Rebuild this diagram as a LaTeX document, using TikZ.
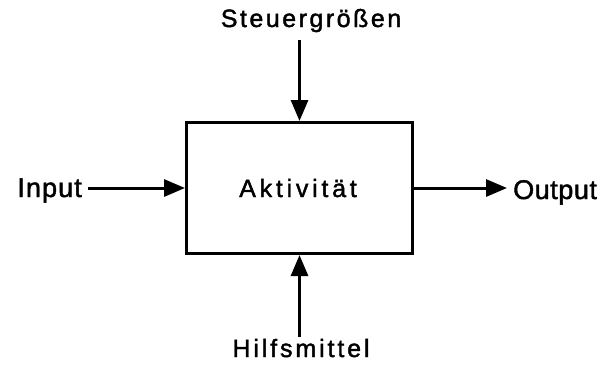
\documentclass[tikz,border=0pt]{standalone}
\usepackage{fontspec}
\newfontfamily\labfont{Liberation Sans}[FakeBold=1.6]
\usetikzlibrary{arrows.meta}
\begin{document}
\begin{tikzpicture}[x=1pt,y=-1pt,
  lbl/.style={anchor=base,inner sep=0pt},
  flow/.style={line width=3pt,-{Triangle[length=21pt,width=17pt]}},
  box/.style={draw,line width=3pt,minimum width=226pt,minimum height=131pt,inner sep=0pt}]
\useasboundingbox (0,0) rectangle (610,368);
\node[box] (act) at (299.5,188) {};
\node[lbl,font=\labfont\fontsize{25}{28}\selectfont\addfontfeature{LetterSpace=15}] (akt) at (298,197) {Aktivität};
\node[lbl,font=\labfont\fontsize{25}{28}\selectfont\addfontfeature{LetterSpace=10}] (st) at (311,27) {Steuergrößen};
\node[lbl,font=\labfont\fontsize{25}{28}\selectfont\addfontfeature{LetterSpace=11.5}] (hm) at (301,357) {Hilfsmittel};
\node[lbl,anchor=base east,font=\labfont\fontsize{27}{30}\selectfont\addfontfeature{LetterSpace=4}] (in) at (82,197) {Input};
\node[lbl,anchor=base west,font=\labfont\fontsize{27}{30}\selectfont\addfontfeature{LetterSpace=2}] (out) at (513,199) {Output};
\coordinate (s1) at (299.5,40);
\coordinate (h1) at (299.5,337);
\coordinate (i1) at (88,188);
\coordinate (o1) at (507,188);
\draw[flow] (s1) -- (act.north);
\draw[flow] (h1) -- (act.south);
\draw[flow] (i1) -- (act.west);
\draw[flow] (act.east) -- (o1);
\end{tikzpicture}
\end{document}
